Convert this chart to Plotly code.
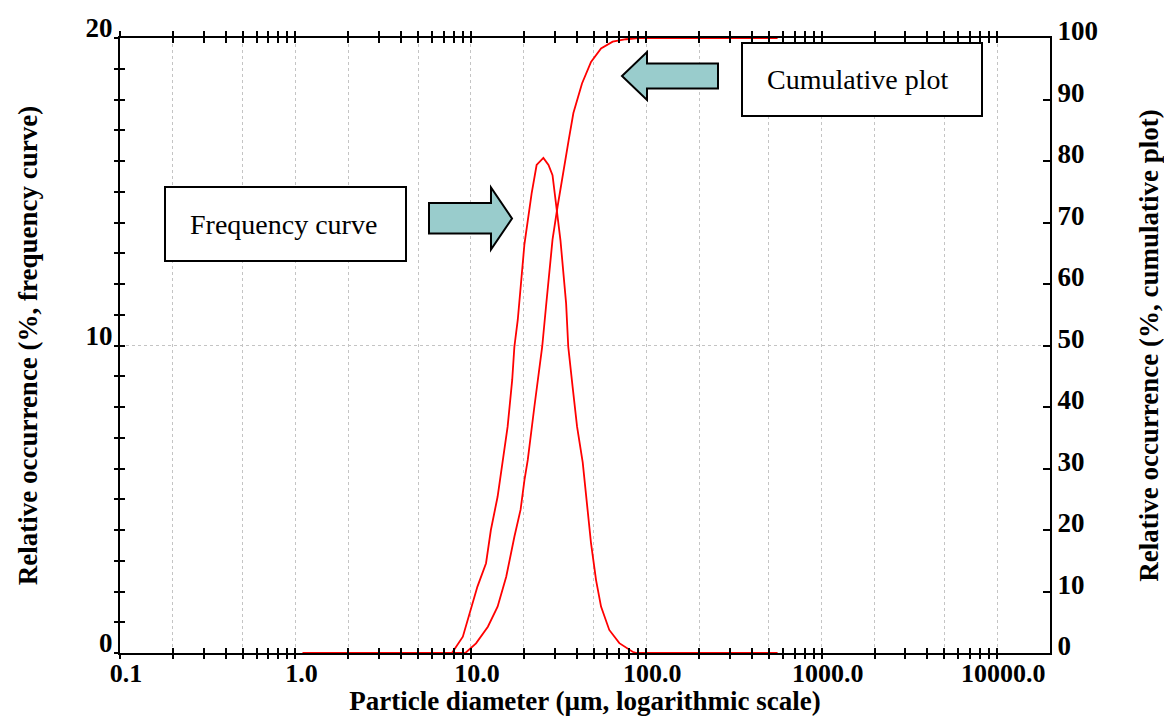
import math
import plotly.graph_objects as go

# ---- particle size distribution data -------------------------------------
# frequency curve: relative occurrence (%) per size class
freq_size_um = [1.1, 7.8, 9.0, 9.8, 10.9, 12.2, 13.0, 14.2, 15.2, 16.2, 17.2,
                17.7, 18.5, 19.3, 20.2, 22.2, 23.7, 25.9, 27.7, 29.2, 30.6,
                32.4, 34.9, 35.9, 38.0, 40.3, 43.4, 46.3, 48.4, 51.7, 55.2,
                61.5, 70.2, 83.5, 88.0, 560.0]
freq_pct = [0, 0, 0.53, 1.29, 2.16, 2.92, 4.0, 5.08, 6.3, 7.36, 8.88,
            9.96, 10.83, 12.13, 13.3, 14.95, 15.87, 16.1, 15.87, 15.54, 14.6,
            13.43, 11.37, 9.96, 8.66, 7.36, 6.2, 4.76, 3.57, 2.37, 1.51,
            0.75, 0.32, 0.04, 0, 0]

# cumulative plot: relative occurrence (%) below each size
cum_size_um = [1.1, 9.3, 10.7, 12.5, 14.2, 15.9, 17.7, 19.2, 20.2, 21.1, 23.0,
               25.5, 26.8, 28.0, 29.2, 31.2, 33.4, 36.1, 38.4, 43.0, 48.4,
               55.2, 64.3, 76.6, 90.0, 560.0]
cum_pct = [0, 0, 1.57, 4.28, 7.53, 12.4, 18.9, 23.3, 28.1, 31.4, 40.0,
           49.8, 56.3, 61.7, 67.2, 72.6, 78.0, 83.4, 87.8, 92.6, 96.1,
           98.3, 99.4, 99.8, 100, 100]

# ---- axis ticks ----------------------------------------------------------
x_label_vals = [0.1, 1, 10, 100, 1000, 10000]
x_label_text = ["0.1", "1.0", "10.0", "100.0", "1000.0", "10000.0"]
x_tick_vals = [m * 10 ** k for k in range(-1, 4) for m in range(1, 10)] + [10000]
x_tick_text = [x_label_text[x_label_vals.index(v)] if v in x_label_vals else ""
               for v in x_tick_vals]
x_grid_vals = [m * 10 ** k for k in range(-1, 4) for m in (1, 2, 5)] + [10000]

yl_tick_vals = list(range(0, 21))
yl_tick_text = [str(v) if v % 10 == 0 else "" for v in yl_tick_vals]
yr_tick_vals = list(range(0, 101, 10))
yr_tick_text = [str(v) for v in yr_tick_vals]

X_RANGE = [-1, math.log10(20000)]
SERIF = "Liberation Serif"
BOLD = dict(family=SERIF, size=27, color="black", weight="bold")
TICK_FONT = dict(family=SERIF, size=27, color="black", weight="bold")
XTICK_FONT = dict(family=SERIF, size=26, color="black", weight="bold")
GRID = "#c4c4c4"

# page geometry (pixels) for the decorative boxes and arrows
W, H = 1164, 716
ML, MR, MT, MB = 120, 114, 38, 63
PW, PH = W - ML - MR, H - MT - MB


def px(x):
    return (x - ML) / PW


def py(y):
    return (H - MB - y) / PH


fig = go.Figure()
fig.add_trace(go.Scatter(x=freq_size_um, y=freq_pct, mode="lines",
                         line=dict(color="#ff0000", width=1.8),
                         xaxis="x", yaxis="y", showlegend=False,
                         hoverinfo="skip"))
fig.add_trace(go.Scatter(x=cum_size_um, y=cum_pct, mode="lines",
                         line=dict(color="#ff0000", width=1.8),
                         xaxis="x", yaxis="y2", showlegend=False,
                         hoverinfo="skip"))

# empty traces so that every helper axis (extra tick sides, grids) is drawn
for xa, ya in [("x2", "y"), ("x3", "y"), ("x4", "y"), ("x5", "y"),
               ("x", "y3"), ("x", "y4")]:
    fig.add_trace(go.Scatter(x=[], y=[], xaxis=xa, yaxis=ya, mode="lines",
                             showlegend=False, hoverinfo="skip"))

common_x = dict(type="log", range=X_RANGE, showgrid=False, zeroline=False,
                tickvals=x_tick_vals, tickcolor="black", tickwidth=2,
                ticklen=5, showticklabels=False, automargin=False)

fig.update_layout(
    width=W, height=H,
    margin=dict(l=ML, r=MR, t=MT, b=MB, pad=0),
    paper_bgcolor="white", plot_bgcolor="white",
    showlegend=False,
    # bottom axis: inner half of the crossing ticks + labels
    xaxis=dict(common_x, anchor="y", side="bottom", ticks="inside",
               showticklabels=True, ticktext=x_tick_text, tickfont=XTICK_FONT,
               ticklabelshift=6, ticklabelstandoff=-4,
               showline=True, linecolor="black", linewidth=2,
               title=dict(text="Particle diameter (µm, logarithmic scale)",
                          font=BOLD, standoff=10)),
    # bottom axis: outer half of the crossing ticks
    xaxis2=dict(common_x, overlaying="x", anchor="y", side="bottom",
                ticks="outside", showline=False),
    # top border with crossing ticks
    xaxis3=dict(common_x, overlaying="x", anchor="y", side="top",
                ticks="outside", showline=True, linecolor="black",
                linewidth=2),
    xaxis4=dict(common_x, overlaying="x", anchor="y", side="top",
                ticks="inside", showline=False),
    # vertical dotted grid at 1, 2 and 5 of every decade
    xaxis5=dict(type="log", range=X_RANGE, overlaying="x", anchor="y",
                side="bottom", tickvals=x_grid_vals, ticks="",
                showticklabels=False, showline=False, zeroline=False,
                showgrid=True, gridcolor=GRID, griddash="dot",
                gridwidth=1, automargin=False),
    yaxis=dict(range=[0, 20], anchor="x", side="left", ticks="inside",
               ticklen=5, tickwidth=2, tickcolor="black",
               tickvals=yl_tick_vals, ticktext=yl_tick_text,
               tickfont=TICK_FONT, ticklabelshift=-10,
               showline=True, linecolor="black", linewidth=2,
               showgrid=False, zeroline=False, automargin=False,
               title=dict(text="Relative occurrence (%, frequency curve)",
                          font=BOLD, standoff=40)),
    yaxis3=dict(range=[0, 20], overlaying="y", anchor="x", side="left",
                ticks="outside", ticklen=5, tickwidth=2, tickcolor="black",
                tickvals=yl_tick_vals, showticklabels=False,
                showline=False, showgrid=False, zeroline=False,
                automargin=False),
    yaxis4=dict(range=[0, 20], overlaying="y", anchor="x", side="left",
                ticks="", tickvals=[10], showticklabels=False,
                showline=False, zeroline=False, showgrid=True,
                gridcolor=GRID, griddash="dot", gridwidth=1,
                automargin=False),
    yaxis2=dict(range=[0, 100], overlaying="y", anchor="x", side="right",
                ticks="inside", ticklen=7, tickwidth=2, tickcolor="black",
                tickvals=yr_tick_vals, ticktext=yr_tick_text,
                tickfont=TICK_FONT, ticklabelshift=-7,
                showline=True, linecolor="black", linewidth=2,
                showgrid=False, zeroline=False, automargin=False,
                title=dict(text="Relative occurrence (%, cumulative plot)",
                           font=BOLD, standoff=42)),
)

# ---- labelled boxes with block arrows -------------------------------------
ARROW_FILL = "#99cccc"


def box(x0, y0, x1, y1):
    fig.add_shape(type="rect", xref="paper", yref="paper",
                  x0=px(x0), x1=px(x1), y0=py(y1), y1=py(y0),
                  line=dict(color="black", width=2), fillcolor="white",
                  layer="above")


def polygon(points):
    path = "M " + " L ".join(f"{px(x):.5f},{py(y):.5f}" for x, y in points) + " Z"
    fig.add_shape(type="path", xref="paper", yref="paper", path=path,
                  line=dict(color="black", width=2), fillcolor=ARROW_FILL,
                  layer="above")


def label(x, y, text):
    fig.add_annotation(xref="paper", yref="paper", x=px(x), y=py(y),
                       xanchor="center", yanchor="middle", text=text,
                       showarrow=False,
                       font=dict(family=SERIF, size=28, color="black"))


# frequency curve label, arrow pointing right
box(165, 187, 406, 261)
label(283, 224, "Frequency curve")
polygon([(429, 203), (491, 203), (491, 187.5), (512, 218.5),
         (491, 249.5), (491, 233.5), (429, 233.5)])

# cumulative plot label, arrow pointing left
box(742, 43, 982, 116)
label(857, 79, "Cumulative plot")
polygon([(718, 63.5), (647, 63.5), (647, 52), (622, 76),
         (647, 100), (647, 88.5), (718, 88.5)])

fig.write_html("out.html")
